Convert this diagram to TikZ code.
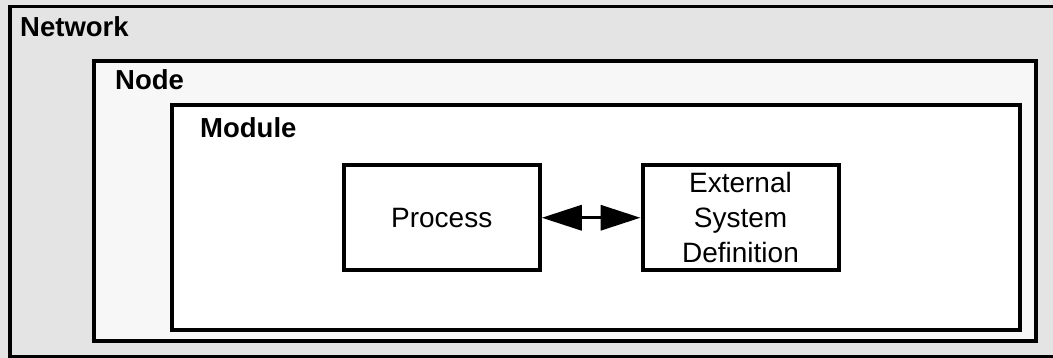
\documentclass[tikz,border=0pt]{standalone}
\usepackage{fontspec}
\setmainfont{Liberation Sans}
\usetikzlibrary{arrows.meta}
\definecolor{netgray}{HTML}{E4E4E4}
\definecolor{nodegray}{HTML}{F7F7F7}
\tikzset{
  title/.style={anchor=base west, inner sep=0pt, font=\fontsize{27.5}{32}\selectfont\bfseries},
  proc/.style={draw=black, line width=4pt, fill=white, rectangle, inner sep=0pt,
    minimum width=196pt, minimum height=105.5pt, align=center,
    font=\fontsize{28}{35}\selectfont},
  dblarrow/.style={line width=3.5pt, {Triangle[length=40pt,width=25pt]}-{Triangle[length=40pt,width=25pt]}}
}
\begin{document}
\begin{tikzpicture}[x=1pt,y=-1pt]
\useasboundingbox (0,0) rectangle (1053,358);
\fill[netgray] (0,0) rectangle (1053,358);
% Network box
\draw[line width=3.5pt, fill=netgray] (10,6.7) coordinate (nettl) rectangle (1060,357) coordinate (netbr);
\node[title] (nettitle) at (20,36.7) {Network};
% Node box
\draw[line width=4pt, fill=nodegray] (94,61) coordinate (nodetl) rectangle (1036,340.5) coordinate (nodebr);
\node[title] (nodetitle) at (115,90) {Node};
% Module box
\draw[line width=4pt, fill=white] (172,105) coordinate (modtl) rectangle (1020,330) coordinate (modbr);
\node[title] (modtitle) at (200,138) {Module};
% Process and ESD
\node[proc] (process) at (441.75,217.75) {Process};
\node[proc] (esd) at (740.5,217.75) {External\\System\\Definition};
\draw[dblarrow] (process.east) -- (esd.west);
\end{tikzpicture}
\end{document}
